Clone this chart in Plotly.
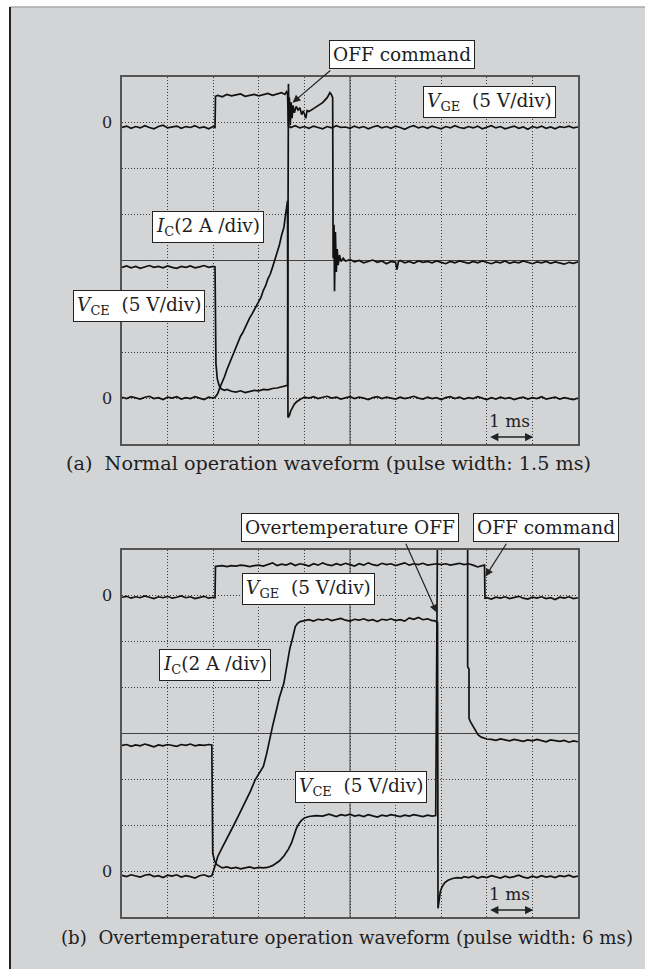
import plotly.graph_objects as go

# ---------------- DATA: (time in ms = horizontal div, level in vertical div) ----------------
# Panel (a): normal operation, pulse width 1.5 ms
a_vge = [
    (0.0, 6.90), (0.1, 6.93), (0.2, 6.88), (0.3, 6.92), (0.4, 6.89), (0.5, 6.94), (0.6, 6.90), (0.7, 6.87),
    (0.8, 6.92), (0.9, 6.95), (1.0, 6.89), (1.1, 6.91), (1.2, 6.93), (1.3, 6.88), (1.4, 6.92), (1.5, 6.90),
    (1.6, 6.94), (1.7, 6.89), (1.8, 6.91), (1.9, 6.87), (2.0, 6.92), (2.04, 6.90), (2.05, 7.58), (2.1, 7.60),
    (2.2, 7.57), (2.3, 7.62), (2.4, 7.59), (2.5, 7.61), (2.6, 7.63), (2.7, 7.58), (2.8, 7.60), (2.9, 7.62),
    (3.0, 7.59), (3.1, 7.61), (3.2, 7.64), (3.3, 7.60), (3.4, 7.63), (3.5, 7.66), (3.57, 7.62), (3.61, 7.68),
    (3.63, 7.64), (3.65, 6.93), (3.7, 6.90), (3.8, 6.94), (3.9, 6.89), (4.0, 6.92), (4.1, 6.88), (4.2, 6.93),
    (4.3, 6.90), (4.4, 6.87), (4.5, 6.92), (4.6, 6.89), (4.7, 6.94), (4.8, 6.90), (4.9, 6.91), (5.0, 6.88),
    (5.1, 6.93), (5.2, 6.89), (5.3, 6.92), (5.4, 6.87), (5.5, 6.91), (5.6, 6.94), (5.7, 6.89), (5.8, 6.92),
    (5.9, 6.88), (6.0, 6.93), (6.1, 6.90), (6.2, 6.86), (6.3, 6.91), (6.4, 6.94), (6.5, 6.89), (6.6, 6.92),
    (6.7, 6.88), (6.8, 6.93), (6.9, 6.90), (7.0, 6.87), (7.1, 6.92), (7.2, 6.89), (7.3, 6.94), (7.4, 6.90),
    (7.5, 6.88), (7.6, 6.92), (7.7, 6.89), (7.8, 6.93), (7.9, 6.87), (8.0, 6.91), (8.1, 6.94), (8.2, 6.89),
    (8.3, 6.92), (8.4, 6.87), (8.5, 6.90), (8.6, 6.93), (8.7, 6.88), (8.8, 6.91), (8.9, 6.86), (9.0, 6.92),
    (9.1, 6.89), (9.2, 6.93), (9.3, 6.88), (9.4, 6.91), (9.5, 6.87), (9.6, 6.92), (9.7, 6.90), (9.8, 6.93),
    (9.9, 6.89), (10.0, 6.91)]

a_vce = [
    (0.0, 3.85), (0.1, 3.88), (0.2, 3.84), (0.3, 3.87), (0.4, 3.83), (0.5, 3.86), (0.6, 3.89), (0.7, 3.85),
    (0.8, 3.87), (0.9, 3.84), (1.0, 3.88), (1.1, 3.85), (1.2, 3.83), (1.3, 3.87), (1.4, 3.85), (1.5, 3.88),
    (1.6, 3.84), (1.7, 3.86), (1.8, 3.89), (1.9, 3.85), (2.0, 3.87), (2.04, 3.86), (2.06, 1.75), (2.09, 1.42),
    (2.13, 1.27), (2.18, 1.20), (2.25, 1.17), (2.3, 1.19), (2.4, 1.15), (2.5, 1.13), (2.6, 1.16), (2.7, 1.12),
    (2.8, 1.15), (2.9, 1.17), (3.0, 1.16), (3.1, 1.19), (3.2, 1.18), (3.3, 1.21), (3.4, 1.22), (3.5, 1.25),
    (3.6, 1.27), (3.63, 1.28), (3.65, 7.85), (3.66, 7.05), (3.67, 7.55), (3.69, 6.95), (3.71, 7.45), (3.73, 7.10),
    (3.75, 7.38), (3.78, 7.22), (3.82, 7.36), (3.86, 7.28), (3.90, 7.33), (3.94, 7.18), (3.97, 7.26), (4.0, 7.20),
    (4.03, 7.10), (4.06, 7.27), (4.1, 7.25), (4.2, 7.31), (4.3, 7.37), (4.4, 7.44), (4.5, 7.55), (4.56, 7.66),
    (4.59, 7.62), (4.62, 7.55), (4.63, 4.05), (4.65, 4.78), (4.66, 3.33), (4.68, 4.62), (4.70, 3.75), (4.72, 4.25),
    (4.74, 3.90), (4.77, 4.12), (4.8, 3.98), (4.85, 4.05), (4.9, 3.99), (5.0, 4.02), (5.1, 3.97), (5.2, 4.00),
    (5.3, 3.95), (5.4, 3.98), (5.5, 4.01), (5.6, 3.96), (5.7, 3.99), (5.8, 3.93), (5.9, 3.98), (6.0, 3.96),
    (6.03, 3.80), (6.06, 3.97), (6.1, 4.00), (6.2, 3.95), (6.3, 3.98), (6.4, 3.94), (6.5, 3.99), (6.6, 3.96),
    (6.7, 3.98), (6.8, 3.95), (6.9, 3.99), (7.0, 3.96), (7.1, 3.93), (7.2, 3.98), (7.3, 3.95), (7.4, 3.99),
    (7.5, 3.96), (7.6, 3.94), (7.7, 3.98), (7.8, 3.95), (7.9, 3.99), (8.0, 3.96), (8.1, 3.93), (8.2, 3.97),
    (8.3, 3.95), (8.4, 3.99), (8.5, 3.94), (8.6, 3.97), (8.7, 3.95), (8.8, 3.99), (8.9, 3.96), (9.0, 3.93),
    (9.1, 3.97), (9.2, 3.95), (9.3, 3.98), (9.4, 3.94), (9.5, 3.97), (9.6, 3.95), (9.7, 3.92), (9.8, 3.96),
    (9.9, 3.94), (10.0, 3.97)]

a_ic = [
    (0.0, 1.02), (0.1, 0.99), (0.2, 1.03), (0.3, 1.00), (0.4, 0.98), (0.5, 1.02), (0.6, 1.04), (0.7, 0.99),
    (0.8, 1.01), (0.9, 0.97), (1.0, 1.02), (1.1, 1.00), (1.2, 1.03), (1.3, 0.98), (1.4, 1.01), (1.5, 0.99),
    (1.6, 1.03), (1.7, 1.00), (1.8, 0.97), (1.9, 1.02), (2.0, 1.00), (2.05, 1.03), (2.1, 1.10), (2.15, 1.24),
    (2.2, 1.35), (2.25, 1.47), (2.3, 1.62), (2.35, 1.74), (2.4, 1.90), (2.45, 1.98), (2.5, 2.12), (2.55, 2.22),
    (2.6, 2.35), (2.65, 2.43), (2.7, 2.55), (2.75, 2.66), (2.8, 2.75), (2.85, 2.83), (2.9, 2.93), (2.95, 3.00),
    (3.0, 3.10), (3.05, 3.20), (3.1, 3.35), (3.15, 3.45), (3.2, 3.60), (3.25, 3.70), (3.3, 3.85), (3.35, 4.00),
    (3.4, 4.15), (3.45, 4.33), (3.5, 4.55), (3.55, 4.72), (3.58, 4.95), (3.61, 5.12), (3.63, 5.30), (3.64, 0.58),
    (3.67, 0.62), (3.70, 0.72), (3.74, 0.80), (3.78, 0.87), (3.83, 0.92), (3.88, 0.96), (3.94, 0.99), (4.0, 1.02),
    (4.1, 1.00), (4.2, 1.03), (4.3, 0.99), (4.4, 1.02), (4.5, 1.04), (4.6, 1.00), (4.7, 1.02), (4.8, 0.98),
    (4.9, 1.01), (5.0, 1.03), (5.1, 0.99), (5.2, 1.02), (5.3, 1.00), (5.4, 0.97), (5.5, 1.01), (5.6, 1.03),
    (5.7, 0.99), (5.8, 1.02), (5.9, 1.00), (6.0, 0.98), (6.1, 1.02), (6.2, 0.99), (6.3, 1.01), (6.4, 1.04),
    (6.5, 1.00), (6.6, 0.98), (6.7, 1.02), (6.8, 0.99), (6.9, 1.01), (7.0, 0.97), (7.1, 1.01), (7.2, 1.03),
    (7.3, 0.99), (7.4, 1.02), (7.5, 0.98), (7.6, 1.01), (7.7, 0.99), (7.8, 1.03), (7.9, 1.00), (8.0, 0.97),
    (8.1, 1.01), (8.2, 0.98), (8.3, 1.02), (8.4, 0.99), (8.5, 1.01), (8.6, 0.97), (8.7, 1.00), (8.8, 1.02),
    (8.9, 0.98), (9.0, 1.01), (9.1, 0.99), (9.2, 1.03), (9.3, 0.98), (9.4, 1.00), (9.5, 1.02), (9.6, 0.98),
    (9.7, 1.01), (9.8, 0.99), (9.9, 0.97), (10.0, 1.00)]

# Panel (b): overtemperature operation, pulse width 6 ms (VCE is off-screen above 8 div after turn-off)
b_vge = [
    (0.0, 6.97), (0.1, 6.99), (0.2, 6.95), (0.3, 6.98), (0.4, 6.96), (0.5, 7.00), (0.6, 6.97), (0.7, 6.94),
    (0.8, 6.98), (0.9, 6.96), (1.0, 6.99), (1.1, 6.95), (1.2, 6.97), (1.3, 7.00), (1.4, 6.96), (1.5, 6.98),
    (1.6, 6.94), (1.7, 6.97), (1.8, 6.99), (1.9, 6.95), (2.0, 6.97), (2.04, 6.96), (2.05, 7.64), (2.1, 7.65),
    (2.2, 7.66), (2.3, 7.64), (2.4, 7.66), (2.5, 7.65), (2.6, 7.67), (2.7, 7.66), (2.8, 7.64), (2.9, 7.66),
    (3.0, 7.67), (3.1, 7.65), (3.2, 7.68), (3.3, 7.72), (3.4, 7.66), (3.5, 7.69), (3.6, 7.67), (3.7, 7.71),
    (3.8, 7.66), (3.9, 7.70), (4.0, 7.68), (4.1, 7.65), (4.2, 7.70), (4.3, 7.67), (4.4, 7.72), (4.5, 7.68),
    (4.6, 7.66), (4.7, 7.70), (4.8, 7.67), (4.9, 7.71), (5.0, 7.68), (5.1, 7.65), (5.2, 7.70), (5.3, 7.67),
    (5.4, 7.72), (5.5, 7.68), (5.6, 7.66), (5.7, 7.71), (5.8, 7.68), (5.9, 7.70), (6.0, 7.66), (6.1, 7.69),
    (6.2, 7.72), (6.3, 7.67), (6.4, 7.70), (6.5, 7.68), (6.6, 7.71), (6.7, 7.67), (6.8, 7.69), (6.9, 7.70),
    (7.0, 7.68), (7.1, 7.70), (7.2, 7.67), (7.3, 7.69), (7.4, 7.71), (7.5, 7.68), (7.6, 7.70), (7.7, 7.67),
    (7.8, 7.63), (7.9, 7.66), (7.95, 7.67), (7.96, 6.95), (8.0, 6.96), (8.1, 6.93), (8.2, 6.97), (8.3, 6.95),
    (8.4, 6.98), (8.5, 6.94), (8.6, 6.96), (8.7, 6.99), (8.8, 6.95), (8.9, 6.93), (9.0, 6.97), (9.1, 6.95),
    (9.2, 6.98), (9.3, 6.94), (9.4, 6.96), (9.5, 6.92), (9.6, 6.97), (9.7, 6.95), (9.8, 6.98), (9.9, 6.94),
    (10.0, 6.96)]

b_vce = [
    (0.0, 3.74), (0.1, 3.76), (0.2, 3.72), (0.3, 3.75), (0.4, 3.73), (0.5, 3.77), (0.6, 3.74), (0.7, 3.71),
    (0.8, 3.75), (0.9, 3.73), (1.0, 3.76), (1.1, 3.74), (1.2, 3.72), (1.3, 3.76), (1.4, 3.74), (1.5, 3.77),
    (1.6, 3.73), (1.7, 3.75), (1.8, 3.74), (1.9, 3.76), (1.97, 3.75), (1.99, 1.39), (2.03, 1.22), (2.08, 1.14),
    (2.15, 1.10), (2.2, 1.07), (2.3, 1.09), (2.4, 1.06), (2.5, 1.08), (2.6, 1.05), (2.7, 1.07), (2.8, 1.09),
    (2.9, 1.06), (3.0, 1.08), (3.1, 1.07), (3.19, 1.08), (3.3, 1.12), (3.45, 1.22), (3.55, 1.33), (3.65, 1.48),
    (3.72, 1.62), (3.77, 1.80), (3.82, 1.92), (3.87, 2.02), (3.93, 2.10), (4.0, 2.16), (4.1, 2.19), (4.25, 2.21),
    (4.4, 2.20), (4.54, 2.24), (4.6, 2.22), (4.7, 2.19), (4.8, 2.23), (4.9, 2.21), (5.0, 2.24), (5.1, 2.20),
    (5.2, 2.22), (5.3, 2.19), (5.4, 2.23), (5.5, 2.21), (5.6, 2.18), (5.7, 2.22), (5.8, 2.20), (5.9, 2.23),
    (6.0, 2.21), (6.1, 2.19), (6.2, 2.22), (6.3, 2.20), (6.4, 2.23), (6.5, 2.21), (6.6, 2.19), (6.7, 2.22),
    (6.8, 2.20), (6.88, 2.21), (6.92, 8.60), (7.58, 8.60), (7.58, 5.46), (7.61, 5.40), (7.61, 4.33), (7.64, 4.26),
    (7.68, 4.19), (7.74, 4.08), (7.81, 3.97), (7.88, 3.92), (7.95, 3.89), (8.0, 3.88), (8.1, 3.87), (8.2, 3.85),
    (8.3, 3.88), (8.4, 3.86), (8.5, 3.84), (8.6, 3.87), (8.7, 3.85), (8.8, 3.83), (8.9, 3.86), (9.0, 3.84),
    (9.1, 3.87), (9.2, 3.85), (9.3, 3.82), (9.4, 3.86), (9.5, 3.84), (9.6, 3.83), (9.7, 3.85), (9.8, 3.81),
    (9.9, 3.84), (10.0, 3.82)]

b_ic = [
    (0.0, 0.91), (0.1, 0.88), (0.2, 0.92), (0.3, 0.89), (0.4, 0.87), (0.5, 0.91), (0.6, 0.93), (0.7, 0.88),
    (0.8, 0.90), (0.9, 0.86), (1.0, 0.91), (1.1, 0.89), (1.2, 0.92), (1.3, 0.87), (1.4, 0.90), (1.5, 0.88),
    (1.6, 0.85), (1.7, 0.90), (1.8, 0.92), (1.9, 0.88), (1.97, 0.90), (2.02, 1.05), (2.1, 1.32), (2.2, 1.52),
    (2.3, 1.70), (2.37, 1.83), (2.45, 2.00), (2.55, 2.20), (2.65, 2.40), (2.73, 2.55), (2.82, 2.75), (2.92, 2.99),
    (3.0, 3.12), (3.1, 3.28), (3.17, 3.55), (3.23, 3.86), (3.3, 4.15), (3.37, 4.44), (3.45, 4.78), (3.55, 5.10),
    (3.6, 5.40), (3.64, 5.60), (3.68, 5.85), (3.73, 6.04), (3.77, 6.25), (3.8, 6.33), (3.85, 6.40), (3.91, 6.44),
    (4.0, 6.46), (4.1, 6.48), (4.2, 6.45), (4.3, 6.49), (4.4, 6.47), (4.5, 6.50), (4.6, 6.46), (4.7, 6.48),
    (4.8, 6.51), (4.9, 6.47), (5.0, 6.45), (5.1, 6.49), (5.2, 6.47), (5.3, 6.50), (5.4, 6.46), (5.5, 6.48),
    (5.6, 6.44), (5.7, 6.49), (5.8, 6.47), (5.9, 6.50), (6.0, 6.46), (6.1, 6.48), (6.2, 6.45), (6.3, 6.52),
    (6.4, 6.49), (6.5, 6.53), (6.6, 6.48), (6.7, 6.50), (6.8, 6.46), (6.85, 6.46), (6.9, 6.43), (6.92, 6.42),
    (6.93, 0.19), (6.95, 0.40), (6.98, 0.55), (7.02, 0.66), (7.08, 0.75), (7.15, 0.80), (7.25, 0.84), (7.35, 0.86),
    (7.45, 0.85), (7.5, 0.88), (7.6, 0.86), (7.7, 0.89), (7.8, 0.85), (7.9, 0.88), (8.0, 0.86), (8.1, 0.90),
    (8.2, 0.87), (8.3, 0.85), (8.4, 0.89), (8.5, 0.86), (8.6, 0.88), (8.7, 0.91), (8.8, 0.87), (8.9, 0.85),
    (9.0, 0.89), (9.1, 0.86), (9.2, 0.90), (9.3, 0.87), (9.4, 0.89), (9.5, 0.86), (9.6, 0.90), (9.7, 0.88),
    (9.8, 0.91), (9.9, 0.87), (10.0, 0.89)]

zero_ticks = [1, 7]          # divisions where the two "0" reference marks sit
zero_text = ["0", "0"]

cap_a = "(a)&nbsp; Normal operation waveform (pulse width: 1.5 ms)"
cap_b = "(b)&nbsp; Overtemperature operation waveform (pulse width: 6 ms)"
lbl_vge = "<i>V</i><sub>GE</sub>&nbsp; (5 V/div)"
lbl_vce = "<i>V</i><sub>CE</sub>&nbsp; (5 V/div)"
lbl_ic = "<i>I</i><sub>C</sub>(2 A /div)"
lbl_off = "OFF command"
lbl_ot = "Overtemperature OFF"
lbl_ms = "1 ms"

# ---------------- FIGURE ----------------
W, H = 645, 969
FONT = "DejaVu Serif"
INK = "#1e1e1e"
NDIV_X, NDIV_Y = 10, 8

fig = go.Figure()

def add_trace(pts, xa, ya):
    fig.add_trace(go.Scatter(
        x=[p[0] for p in pts], y=[p[1] for p in pts], mode="lines",
        line=dict(color="#111111", width=1.7), xaxis=xa, yaxis=ya,
        hoverinfo="skip", showlegend=False))

for pts in (a_vge, a_vce, a_ic):
    add_trace(pts, "x", "y")
for pts in (b_vge, b_vce, b_ic):
    add_trace(pts, "x2", "y2")

xdom = [122 / W, 578 / W]
ydom_a = [1 - 444 / H, 1 - 77 / H]
ydom_b = [1 - 917 / H, 1 - 550 / H]

dotted = dict(showgrid=True, gridcolor="#3a3a3a", gridwidth=1, griddash="1px,2px")
frame = dict(showline=True, linecolor="#555555", linewidth=1.6, mirror=True,
             zeroline=False, ticks="", fixedrange=True)

def xax(anchor):
    return dict(domain=xdom, range=[0, NDIV_X], tick0=0, dtick=1, showticklabels=False,
                anchor=anchor, **dotted, **frame)

def yax(dom, anchor):
    return dict(domain=dom, range=[0, NDIV_Y], tickmode="array", tickvals=zero_ticks,
                ticktext=zero_text, tickfont=dict(family=FONT, size=16, color=INK),
                ticklabelstandoff=5, anchor=anchor,
                minor=dict(tick0=0, dtick=1, ticks="", **dotted), **dotted, **frame)

shapes = [
    # grey panel background with its borders
    dict(type="rect", xref="paper", yref="paper", x0=10 / W, x1=1.01, y0=-0.01, y1=1 - 7 / H,
         fillcolor="#d3d4d6", line=dict(width=0), layer="below"),
    dict(type="line", xref="paper", yref="paper", x0=10 / W, x1=1.01, y0=1 - 7 / H, y1=1 - 7 / H,
         line=dict(color="#a9a9a9", width=1.5), layer="below"),
    dict(type="line", xref="paper", yref="paper", x0=10 / W, x1=10 / W, y0=-0.01, y1=1 - 7 / H,
         line=dict(color="#222222", width=2), layer="below"),
]
for xr, yr in (("x", "y"), ("x2", "y2")):
    # solid centre cross of the graticule
    shapes.append(dict(type="line", xref=xr + " domain", yref=yr + " domain", x0=0.5, x1=0.5, y0=0, y1=1,
                       line=dict(color="#444444", width=1), layer="below"))
    shapes.append(dict(type="line", xref=xr + " domain", yref=yr + " domain", x0=0, x1=1, y0=0.5, y1=0.5,
                       line=dict(color="#444444", width=1), layer="below"))

def box(text, x, y, xr, yr):
    # y given in divisions; placed through the axis domain so boxes above the grid still show
    return dict(text=text, x=x, y=y / NDIV_Y, xref=xr, yref=yr + " domain", showarrow=False,
                xanchor="center", yanchor="middle",
                font=dict(family=FONT, size=18.5, color=INK), bgcolor="white",
                bordercolor="#222222", borderwidth=1, borderpad=3)

def arrow(hx, hy, tx, ty, xr, yr):
    return dict(text="", x=hx, y=hy, ax=tx, ay=ty, xref=xr, yref=yr, axref=xr, ayref=yr,
                showarrow=True, arrowhead=2, arrowsize=1.3, arrowwidth=1.2,
                arrowcolor="#222222", standoff=0, startstandoff=0)

def scale_marks(xr, yr):
    return [
        dict(text=lbl_ms, x=8.5, y=0.5, xref=xr, yref=yr, showarrow=False,
             xanchor="center", yanchor="middle",
             font=dict(family=FONT, size=17, color=INK)),
        dict(text="", x=9.02, y=0.15, ax=8.04, ay=0.15, xref=xr, yref=yr, axref=xr, ayref=yr,
             showarrow=True, arrowhead=2, arrowside="end+start", arrowsize=1.1, arrowwidth=1.5,
             arrowcolor="#222222", standoff=0, startstandoff=0),
    ]

def caption(text, cx, cy, size):
    return dict(text=text, x=cx / W, y=1 - cy / H, xref="paper", yref="paper", showarrow=False,
                xanchor="center", yanchor="middle",
                font=dict(family=FONT, size=size, color=INK))

annotations = [
    # panel (a)
    box(lbl_off, 6.13, 8.49, "x", "y"),
    arrow(3.74, 7.44, 4.60, 8.17, "x", "y"),
    box(lbl_vge, 8.05, 7.46, "x", "y"),
    box(lbl_ic, 1.89, 4.73, "x", "y"),
    box(lbl_vce, 0.37, 3.00, "x", "y"),
    *scale_marks("x", "y"),
    caption(cap_a, 328, 463, 19.2),
    # panel (b)
    box(lbl_ot, 5.01, 8.50, "x2", "y2"),
    arrow(6.90, 6.64, 6.21, 8.17, "x2", "y2"),
    box(lbl_off, 9.30, 8.50, "x2", "y2"),
    arrow(7.97, 7.42, 8.45, 8.17, "x2", "y2"),
    box(lbl_vge, 4.09, 7.16, "x2", "y2"),
    box(lbl_ic, 2.03, 5.50, "x2", "y2"),
    box(lbl_vce, 5.24, 2.83, "x2", "y2"),
    *scale_marks("x2", "y2"),
    caption(cap_b, 347, 937, 18.2),
]

fig.update_layout(
    width=W, height=H, margin=dict(l=0, r=0, t=0, b=0),
    paper_bgcolor="white", plot_bgcolor="white",
    xaxis=xax("y"), yaxis=yax(ydom_a, "x"),
    xaxis2=xax("y2"), yaxis2=yax(ydom_b, "x2"),
    shapes=shapes, annotations=annotations, showlegend=False,
)

fig.write_html("out.html", config={"displayModeBar": False, "staticPlot": True},
               post_script="document.body.style.margin='0';document.body.style.overflow='hidden';")
